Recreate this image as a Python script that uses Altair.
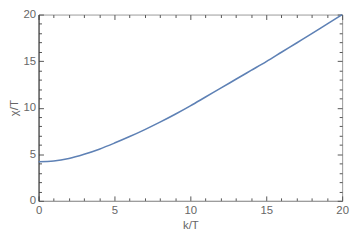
import altair as alt
import pandas as pd

k_vals = [0, 1, 2, 3, 4, 5, 6, 7, 8, 9, 10, 11, 12, 13, 14, 15, 16, 17, 18, 19, 20]
chi_vals = [4.2, 4.28, 4.55, 5.0, 5.55, 6.2, 6.9, 7.65, 8.45, 9.3, 10.2, 11.15, 12.1,
            13.05, 14.0, 14.95, 15.95, 16.95, 17.95, 18.98, 20.0]
all_ticks = list(range(0, 21))

W, H = 308, 189
TICK = "#555555"
LABEL = "#666666"

df = pd.DataFrame({"k": k_vals, "chi": chi_vals})

xs = alt.Scale(domain=[0, 20], nice=False, zero=False)
ys = alt.Scale(domain=[0, 20], nice=False, zero=False)

font = "Liberation Sans"
FS = 11.5
tick_expr = alt.ExprRef(expr="datum.value % 5 === 0 ? -5 : -3")
label_expr = "datum.value % 5 === 0 ? datum.label : ''"


def axis(show_labels, orient, title, domain_color, pad):
    kw = dict(values=all_ticks, tickSize=tick_expr, tickColor=TICK, tickWidth=1,
              orient=orient, grid=False, domain=domain_color is not None)
    if domain_color is not None:
        kw.update(domainColor=domain_color, domainWidth=1)
    if show_labels:
        kw.update(labelExpr=label_expr, labelPadding=pad, labelColor=LABEL, labelFontSize=FS,
                  labelFont=font, labelFlush=False, titleColor=LABEL, titleFontSize=FS,
                  titleFont=font, titleFontWeight="normal", title=title)
    else:
        kw.update(labels=False, title=None)
    return alt.Axis(**kw)


line_main = alt.Chart(df).mark_line(color="#5E81B5", strokeWidth=1.6, interpolate="monotone").encode(
    x=alt.X("k:Q", scale=xs, axis=axis(True, "bottom", "k/T", "#999999", 9)),
    y=alt.Y("chi:Q", scale=ys, axis=axis(True, "left", "χ/T", "#333333", 8)),
)
line_frame = alt.Chart(df).mark_line(color="#5E81B5", strokeWidth=1.6, strokeOpacity=0).encode(
    x=alt.X("k:Q", scale=xs, axis=axis(False, "top", None, None, 0)),
    y=alt.Y("chi:Q", scale=ys, axis=axis(False, "right", None, None, 0)),
)

chart = alt.layer(line_main, line_frame).resolve_axis(x="independent", y="independent").properties(
    width=W, height=H,
    autosize=alt.AutoSizeParams(type="none"),
    padding={"left": 31, "top": 5, "right": 10, "bottom": 33},
).configure_view(stroke="#999999", strokeWidth=1)

chart.save("out.html", embed_options={"renderer": "svg", "actions": False})
